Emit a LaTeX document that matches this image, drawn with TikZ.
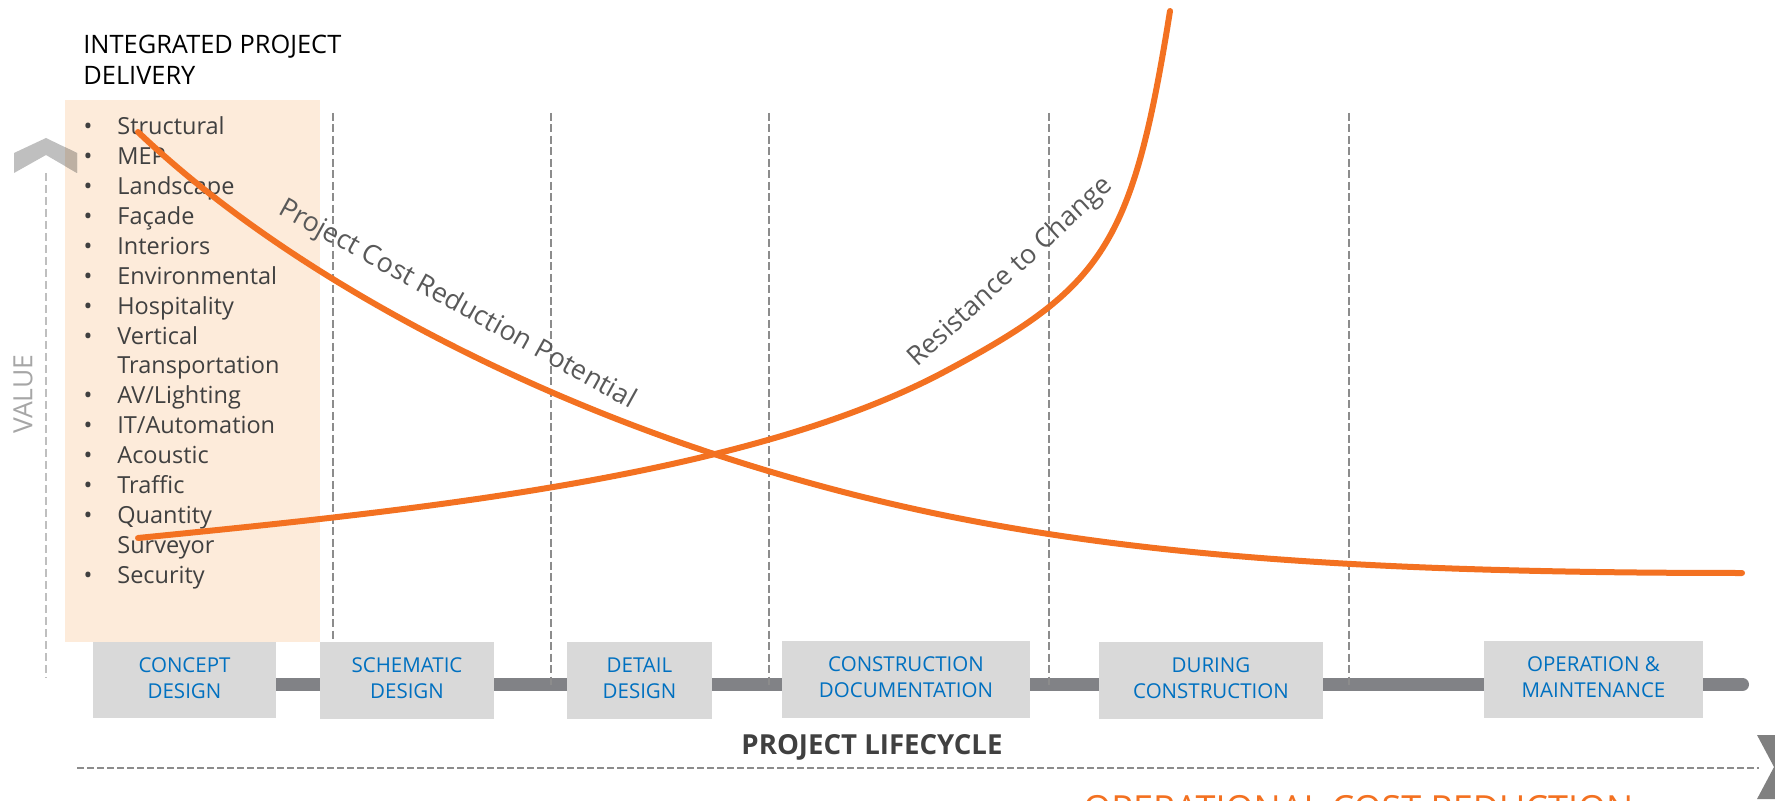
\documentclass[tikz,border=0pt]{standalone}
\usepackage{fontspec}
\setmainfont{Open Sans}
\definecolor{beige}{HTML}{FDEBDA}
\definecolor{phasegray}{HTML}{D9D9D9}
\definecolor{phaseblue}{HTML}{0070C0}
\definecolor{curveorange}{HTML}{F37121}
\definecolor{bargray}{HTML}{818286}
\definecolor{dashgray}{HTML}{8C8C8C}
\definecolor{lightgray}{HTML}{BFBFBF}
\definecolor{tangray}{HTML}{BDB0A3}
\definecolor{txtgray}{HTML}{404040}
\definecolor{lblgray}{HTML}{595959}
\definecolor{valgray}{HTML}{A6A6A6}
\definecolor{chevdark}{HTML}{808080}
\newcommand\fsz[2]{\fontsize{#1}{#2}\selectfont}
\tikzset{
  phase/.style={fill=phasegray, inner sep=0pt, align=center, text=phaseblue,
    font=\fsz{10.25pt}{13pt}},
  phasetxt/.style={inner sep=0pt, align=center, text=phaseblue, font=\fsz{10.25pt}{13pt}},
  listtxt/.style={inner sep=0pt, text=txtgray, font=\fsz{11.75pt}{14pt}},
  titletxt/.style={inner sep=0pt, text=black, font=\fsz{12.7pt}{15.5pt}},
  curvelbl/.style={inner sep=0pt, text=lblgray},
  vdash/.style={draw=dashgray, line width=0.75pt, dash pattern=on 4pt off 1.75pt},
  curve/.style={draw=curveorange, line width=3pt, line cap=round},
}
\begin{document}
\begin{tikzpicture}[x=0.5pt,y=-0.5pt]
\useasboundingbox (0,0) rectangle (1775,801);

% title
\node[titletxt, anchor=base west] (t1) at (83,54) {INTEGRATED PROJECT};
\node[titletxt, anchor=base west] (t2) at (83,85) {DELIVERY};

% beige box
\fill[beige] (65,100) rectangle (320,642);

% up chevron
\fill[lightgray] (14,153)--(46,138)--(77,153)--(77,173)--(46,155)--(14,173)--cycle;
\begin{scope}
  \clip (65,100) rectangle (320,642);
  \fill[tangray] (14,153)--(46,138)--(77,153)--(77,173)--(46,155)--(14,173)--cycle;
\end{scope}

% value axis
\coordinate (va1) at (46,173);
\coordinate (va2) at (46,678);
\draw[draw=lightgray, line width=1pt, dash pattern=on 4pt off 2pt] (va1) -- (va2);
\node[inner sep=0pt, rotate=90, text=valgray, font=\fsz{13.25pt}{15pt}] (value) at (23,394) {VALUE};

% gray bar
\coordinate (bar1) at (150,684.5);
\coordinate (bar2) at (1742.5,684.5);
\draw[draw=bargray, line width=6.5pt, line cap=round] (bar1) -- (bar2);

% vertical dashed lines
\foreach \x [count=\k] in {333,551,769,1049,1349} {
  \coordinate (vt\k) at (\x,113);
  \coordinate (vb\k) at (\x,685);
  \draw[vdash] (vt\k) -- (vb\k);
}

% phase boxes
\node[phase, minimum width=91.5pt, minimum height=38pt] (concept) at (184.5,680) {};
\node[phase, minimum width=87pt, minimum height=38.5pt] (schematic) at (407,680.5) {};
\node[phase, minimum width=72.5pt, minimum height=38.5pt] (detail) at (639.5,680.5) {};
\node[phase, minimum width=124pt, minimum height=38.5pt] (constdoc) at (906,679.5) {};
\node[phase, minimum width=112pt, minimum height=38.5pt] (during) at (1211,680.5) {};
\node[phase, minimum width=109.5pt, minimum height=38.5pt] (opm) at (1593.5,679.5) {};
\node[phasetxt] (conceptL) at ([yshift=1pt]concept.center) {CONCEPT\\DESIGN};
\node[phasetxt] (schematicL) at ([yshift=1pt]schematic.center) {SCHEMATIC\\DESIGN};
\node[phasetxt] (detailL) at ([yshift=1pt]detail.center) {DETAIL\\DESIGN};
\node[phasetxt] (constdocL) at ([yshift=1pt]constdoc.center) {CONSTRUCTION\\DOCUMENTATION};
\node[phasetxt] (duringL) at ([yshift=1pt]during.center) {DURING\\CONSTRUCTION};
\node[phasetxt] (opmL) at ([yshift=1pt]opm.center) {OPERATION \&\\MAINTENANCE};

% list
\foreach \t [count=\i from 0] in {Structural,MEP,Landscape,Façade,Interiors,Environmental,Hospitality,Vertical,Transportation,{AV/Lighting},{IT/Automation},Acoustic,Traffic,Quantity,Surveyor,Security} {
  \node[listtxt, anchor=base west] (li\i) at (117,135+29.87*\i) {\t};
}
\foreach \i in {0,1,2,3,4,5,6,7,9,10,11,12,13,15} {
  \node[listtxt, anchor=base] (bu\i) at (88,135+29.87*\i) {•};
}

% curves
\coordinate (pa0) at (138,132);
\coordinate (pa1) at (711,453);
\coordinate (pa2) at (1742,573);
\draw[curve] (pa0) .. controls (288,274.5) and (511,387) .. (pa1)
                   .. controls (981,542) and (1242,573) .. (pa2);
\coordinate (rb0) at (138,538);
\coordinate (rb1) at (944,372);
\coordinate (rb2) at (1170,11);
\draw[curve] (rb0) .. controls (408,511) and (744,478) .. (rb1)
                   .. controls (1104,287) and (1132.4,246) .. (rb2);

% curve labels
\node[curvelbl, anchor=base west, rotate=-29, font=\fsz{13.5pt}{15pt}] (pcrp) at (277,213) {Project Cost Reduction Potential};
\node[curvelbl, anchor=base west, rotate=42.5, font=\fsz{13.4pt}{15pt}] (rtc) at (917,368) {Resistance to Change};

% project lifecycle
\node[inner sep=0pt, text=txtgray, font=\bfseries\fsz{13.8pt}{15pt}] (plc) at (872,747) {PROJECT LIFECYCLE};

% bottom dashed line
\coordinate (bd1) at (77,768);
\coordinate (bd2) at (1759,768);
\draw[draw=dashgray, line width=1.3pt, dash pattern=on 3.5pt off 1.5pt] (bd1) -- (bd2);

% right chevron
\fill[chevdark] (1757,735)--(1776,735)--(1793,767)--(1776,799)--(1757,799)--(1774,767)--cycle;

% operational cost reduction
\node[inner sep=0pt, anchor=north west, text=curveorange, font=\fsz{18pt}{20pt}] (ocr) at (1083,795) {OPERATIONAL COST REDUCTION};
\end{tikzpicture}
\end{document}
